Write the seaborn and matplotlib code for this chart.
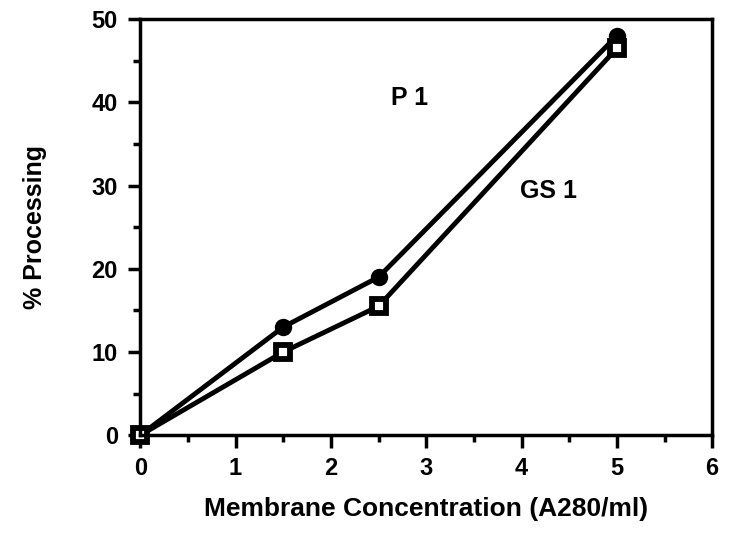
import matplotlib
matplotlib.use("Agg")
import matplotlib.pyplot as plt
import seaborn as sns
import pandas as pd
from matplotlib.ticker import MultipleLocator

sns.set_style("ticks")
plt.rcParams['font.family'] = ['Liberation Sans', 'DejaVu Sans']
plt.rcParams['font.weight'] = 'bold'
plt.rcParams['text.color'] = 'black'
plt.rcParams['axes.labelcolor'] = 'black'
plt.rcParams['xtick.color'] = 'black'
plt.rcParams['ytick.color'] = 'black'

conc = [0, 1.5, 2.5, 5]
p1 = [0, 13, 19, 48]
gs1 = [0, 10, 15.5, 46.5]

df = pd.DataFrame({
    "conc": conc * 2,
    "val": p1 + gs1,
    "series": ["P 1"] * 4 + ["GS 1"] * 4,
})

fig = plt.figure(figsize=(7.38, 5.34), dpi=100)
ax = fig.add_axes([0.19, 0.185, 0.775, 0.779])

sns.lineplot(data=df, x="conc", y="val", hue="series", style="series",
             markers={"P 1": "o", "GS 1": "s"}, dashes=False,
             palette={"P 1": "black", "GS 1": "black"},
             linewidth=3.5, markersize=10, markeredgecolor="black",
             legend=False, ax=ax)
for ln in ax.lines:
    ln.set_clip_on(False)
ax.lines[0].set_markerfacecolor("black")
ax.lines[0].set_markeredgewidth(2)
ax.lines[0].set_markersize(10.5)
ax.lines[1].set_markerfacecolor("white")
ax.lines[1].set_markeredgewidth(4.2)

ax.set_xlim(0, 6)
ax.set_ylim(0, 50)
ax.xaxis.set_major_locator(MultipleLocator(1))
ax.xaxis.set_minor_locator(MultipleLocator(0.5))
ax.yaxis.set_major_locator(MultipleLocator(10))
ax.yaxis.set_minor_locator(MultipleLocator(5))
ax.tick_params(which="major", direction="out", length=9, width=2.5, labelsize=17, pad=7,
               colors="black")
ax.tick_params(which="minor", direction="out", length=5, width=2.5, colors="black")
for s in ax.spines.values():
    s.set_visible(True)
    s.set_linewidth(2.5)
    s.set_color("black")
for lab in ax.get_xticklabels() + ax.get_yticklabels():
    lab.set_fontweight("bold")

ax.set_xlabel("Membrane Concentration (A280/ml)", fontsize=19, fontweight="bold", labelpad=12)
ax.set_ylabel("% Processing", fontsize=18, fontweight="bold", labelpad=32)

ax.text(2.83, 40.5, "P 1", fontsize=18, fontweight="bold", ha="center", va="center")
ax.text(4.28, 29.4, "GS 1", fontsize=18, fontweight="bold", ha="center", va="center")

fig.savefig("out.png", dpi=100)
